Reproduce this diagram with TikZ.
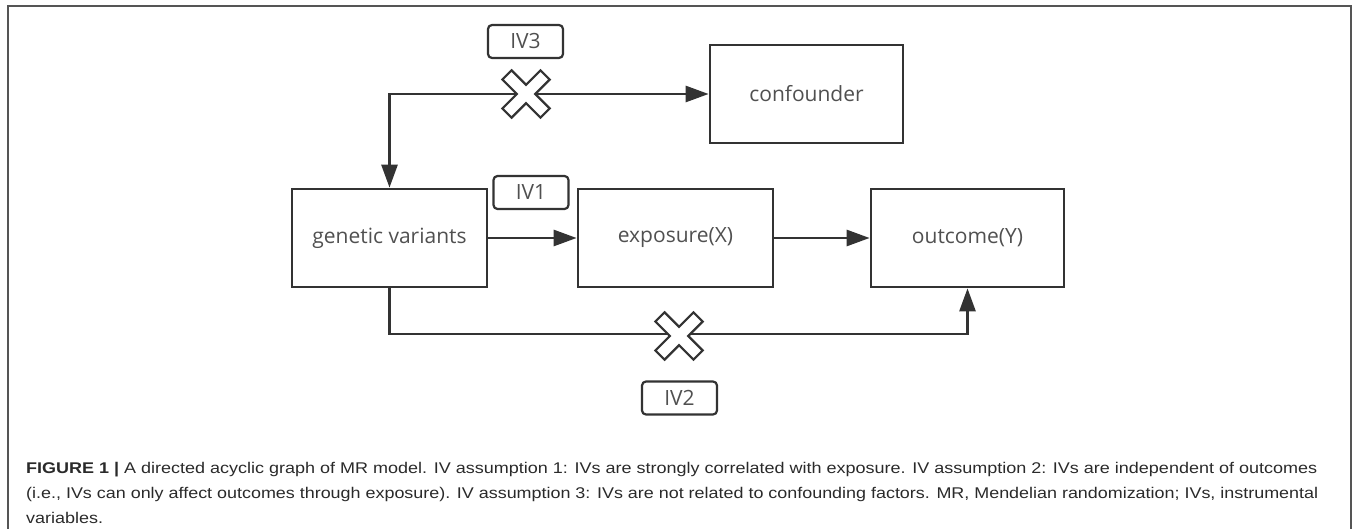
\documentclass[tikz,border=0pt]{standalone}
\usepackage{fontspec}
\usepackage{graphicx}
\usetikzlibrary{arrows.meta}
\setmainfont{Liberation Sans}
\newfontfamily\diagfont{Open Sans}
\definecolor{linegray}{HTML}{333333}
\definecolor{textgray}{HTML}{505050}
\definecolor{capgray}{HTML}{2A2A2A}
\definecolor{framegray}{HTML}{555555}
\newsavebox\capone
\newsavebox\captwo
\newsavebox\capthree
\newcommand\capfont{\fontsize{15.5}{18}\selectfont\color{capgray}}
\begin{document}
\sbox\capone{\capfont\textbf{FIGURE 1 |} A directed acyclic graph of MR model. IV assumption 1: IVs are strongly correlated with exposure. IV assumption 2: IVs are independent of outcomes}%
\sbox\captwo{\capfont(i.e., IVs can only affect outcomes through exposure). IV assumption 3: IVs are not related to confounding factors. MR, Mendelian randomization; IVs, instrumental}%
\sbox\capthree{\capfont variables.}%
\pgfmathsetmacro\capsxa{1291/\wd\capone}%
\pgfmathsetmacro\capsxb{1292/\wd\captwo}%
\begin{tikzpicture}[x=1pt,y=-1pt,
  box/.style={draw=linegray, line width=2.7pt, minimum width=195pt, minimum height=98pt,
    inner sep=0pt, font=\diagfont\fontsize{21}{24}\selectfont, text=textgray},
  ivlab/.style={draw=linegray, line width=2.2pt, rounded corners=4pt, minimum width=75pt,
    minimum height=33pt, inner sep=0pt, font=\diagfont\fontsize{21}{24}\selectfont, text=textgray},
  conn/.style={draw=linegray, line width=2.7pt, -{Triangle[length=23pt,width=16pt]}},
  conn2/.style={draw=linegray, line width=2.7pt, {Triangle[length=23pt,width=16pt]}-{Triangle[length=23pt,width=16pt]}},
  capline/.style={anchor=base west, inner sep=0pt},
  xcross/.pic={
    \draw[draw=linegray, line width=2.2pt, fill=white, line join=miter, rotate=45]
      (6.5,27) -- (6.5,6.5) -- (27,6.5) -- (27,-6.5) -- (6.5,-6.5) -- (6.5,-27)
      -- (-6.5,-27) -- (-6.5,-6.5) -- (-27,-6.5) -- (-27,6.5) -- (-6.5,6.5) -- (-6.5,27) -- cycle;
  }]
\useasboundingbox (0,0) rectangle (1357,529);
% outer frame
\draw[framegray, line width=1.5pt] (8,535) -- (8,6) -- (1351,6) -- (1351,535);

% boxes
\node[box] (gen)  at (389.5,238) {genetic variants};
\node[box] (exp)  at (675.5,238) {exposure(X)};
\node[box, minimum width=193pt] (out)  at (967.5,238) {outcome(Y)};
\node[box, minimum width=193pt] (conf) at (806.5,94) {confounder};

% connectors
\draw[conn] (gen) -- (exp);
\draw[conn] (exp) -- (out);
\coordinate (bl) at (389.5,334);
\draw[conn] (gen.south) -- (bl) -| (out.south);
\draw[conn2] (conf.west) -| (gen.north);

% crosses
\coordinate (x3) at (526,94);
\coordinate (x2) at (679,336);
\pic at (x3) {xcross};
\pic at (x2) {xcross};

% IV labels
\node[ivlab] (iv3) at (525.5,41.5) {IV3};
\node[ivlab] (iv1) at (531,192.5) {IV1};
\node[ivlab] (iv2) at (679.5,398) {IV2};

% caption
\node[capline] (cap1) at (26,473) {\scalebox{\capsxa}[1]{\usebox\capone}};
\node[capline] (cap2) at (26,498) {\scalebox{\capsxb}[1]{\usebox\captwo}};
\node[capline] (cap3) at (26,523) {\scalebox{\capsxa}[1]{\usebox\capthree}};
\end{tikzpicture}
\end{document}
